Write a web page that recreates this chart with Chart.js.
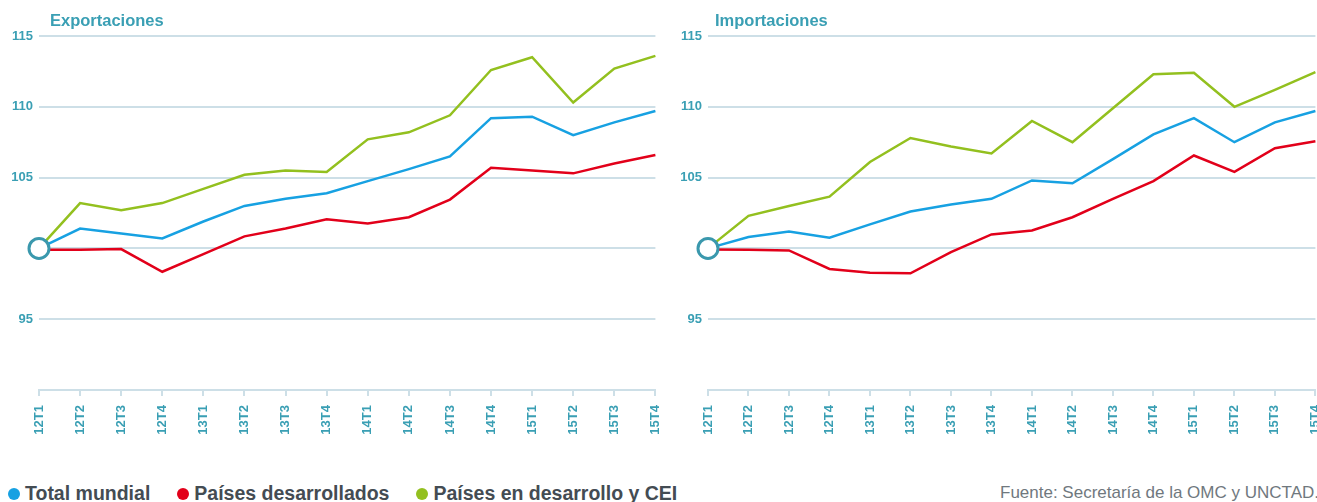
<!DOCTYPE html>
<html lang="es">
<head>
<meta charset="utf-8">
<script src="https://cdn.jsdelivr.net/npm/chart.js@4.4.1/dist/chart.umd.min.js"></script>
<style>
  body { margin: 0; width: 1317px; height: 502px; overflow: hidden; background: #fff; position: relative;
         font-family: "Liberation Sans", Arial, sans-serif; }
  .box { position: absolute; top: 0; }
  .title { position: absolute; top: 11px; font-weight: bold; font-size: 16.5px; color: #3a9fb4; }
  .legend { position: absolute; left: 8px; top: 482px; display: flex; font-weight: bold; font-size: 19.5px; color: #444c53; }
  .legend span { display: flex; align-items: center; margin-right: 27px; }
  .legend i { display: inline-block; width: 12px; height: 12px; border-radius: 50%; margin-right: 5px; }
  .source { position: absolute; left: 1000px; top: 483px; font-size: 17px; color: #70787e; white-space: nowrap; }
</style>
</head>
<body>
<div class="box" style="left:0"><canvas id="exp" width="680" height="440"></canvas></div>
<div class="box" style="left:669px"><canvas id="imp" width="671" height="440"></canvas></div>
<div class="title" style="left:50px">Exportaciones</div>
<div class="title" style="left:715px">Importaciones</div>
<div class="legend">
  <span><i style="background:#17a1e2"></i>Total mundial</span>
  <span><i style="background:#e2001a"></i>Países desarrollados</span>
  <span><i style="background:#93c01f"></i>Países en desarrollo y CEI</span>
</div>
<div class="source">Fuente: Secretaría de la OMC y UNCTAD.</div>
<script>
'use strict';

// --- Data ---
const quarters = ['12T1', '12T2', '12T3', '12T4', '13T1', '13T2', '13T3', '13T4',
                  '14T1', '14T2', '14T3', '14T4', '15T1', '15T2', '15T3', '15T4'];

// Exportaciones
const expTotal = [100, 101.4, 101.05, 100.7, 101.9, 103.0, 103.5, 103.9, 104.75, 105.6, 106.5, 109.2, 109.3, 108.0, 108.9, 109.7];
const expDesarrollados = [99.9, 99.9, 99.95, 98.35, 99.6, 100.85, 101.4, 102.05, 101.76, 102.2, 103.45, 105.7, 105.5, 105.3, 106.0, 106.6];
const expDesarrollo = [100, 103.2, 102.7, 103.2, 104.2, 105.2, 105.5, 105.4, 107.7, 108.2, 109.4, 112.6, 113.5, 110.3, 112.7, 113.6];

// Importaciones
const impTotal = [100, 100.8, 101.2, 100.75, 101.7, 102.6, 103.1, 103.5, 104.8, 104.6, 106.3, 108.05, 109.2, 107.5, 108.9, 109.7];
const impDesarrollados = [99.93, 99.9, 99.86, 98.55, 98.28, 98.24, 99.74, 100.99, 101.27, 102.2, 103.5, 104.75, 106.56, 105.4, 107.08, 107.57];
const impDesarrollo = [100, 102.3, 103.0, 103.65, 106.1, 107.8, 107.2, 106.7, 109.0, 107.5, 109.9, 112.3, 112.4, 110.0, 111.2, 112.45];

// Base point (index = 100)
const basePoint = [100];

const yMin = 90, yMax = 115, yStep = 5;
const hiddenTicks = [90, 100];

// --- Styles ---
const teal = '#3a9fb4';
const gridColor = '#cddfe7';
const blue = '#17a1e2', red = '#e2001a', green = '#93c01f';

function lineSet(data, color) {
  return { data: data, borderColor: color, borderWidth: 2.5, pointRadius: 0, tension: 0, fill: false };
}

function makeChart(id, total, desarrollados, desarrollo) {
  const canvas = document.getElementById(id);
  return new Chart(canvas.getContext('2d'), {
    type: 'line',
    data: {
      labels: quarters,
      datasets: [
        { data: basePoint, showLine: false, pointRadius: 10, pointBorderWidth: 3,
          pointBorderColor: '#3a98ad', pointBackgroundColor: '#fff', order: 0 },
        Object.assign(lineSet(desarrollo, green), { order: 3 }),
        Object.assign(lineSet(total, blue), { order: 2 }),
        Object.assign(lineSet(desarrollados, red), { order: 1 })
      ]
    },
    options: {
      responsive: false,
      animation: false,
      events: [],
      layout: { padding: { top: 36, right: 0 } },
      plugins: { legend: { display: false }, tooltip: { enabled: false } },
      scales: {
        x: {
          offset: false,
          grid: { drawOnChartArea: false, color: gridColor, lineWidth: 2, tickLength: 6 },
          border: { color: gridColor, width: 2 },
          ticks: { autoSkip: false, maxRotation: 90, minRotation: 90, padding: 9, color: teal,
                   font: { family: 'Liberation Sans', weight: 'bold', size: 13 } },
          afterFit(scale) { scale.height = 50; }
        },
        y: {
          min: yMin, max: yMax,
          grid: { color: gridColor, lineWidth: 2, drawTicks: false },
          border: { display: false },
          ticks: { stepSize: yStep, padding: 6, color: teal,
                   font: { family: 'Liberation Sans', weight: 'bold', size: 13 },
                   callback: v => hiddenTicks.includes(v) ? '' : v },
          afterFit(scale) { scale.width = 39; }
        }
      }
    }
  });
}

makeChart('exp', expTotal, expDesarrollados, expDesarrollo);
makeChart('imp', impTotal, impDesarrollados, impDesarrollo);
</script>
</body>
</html>
